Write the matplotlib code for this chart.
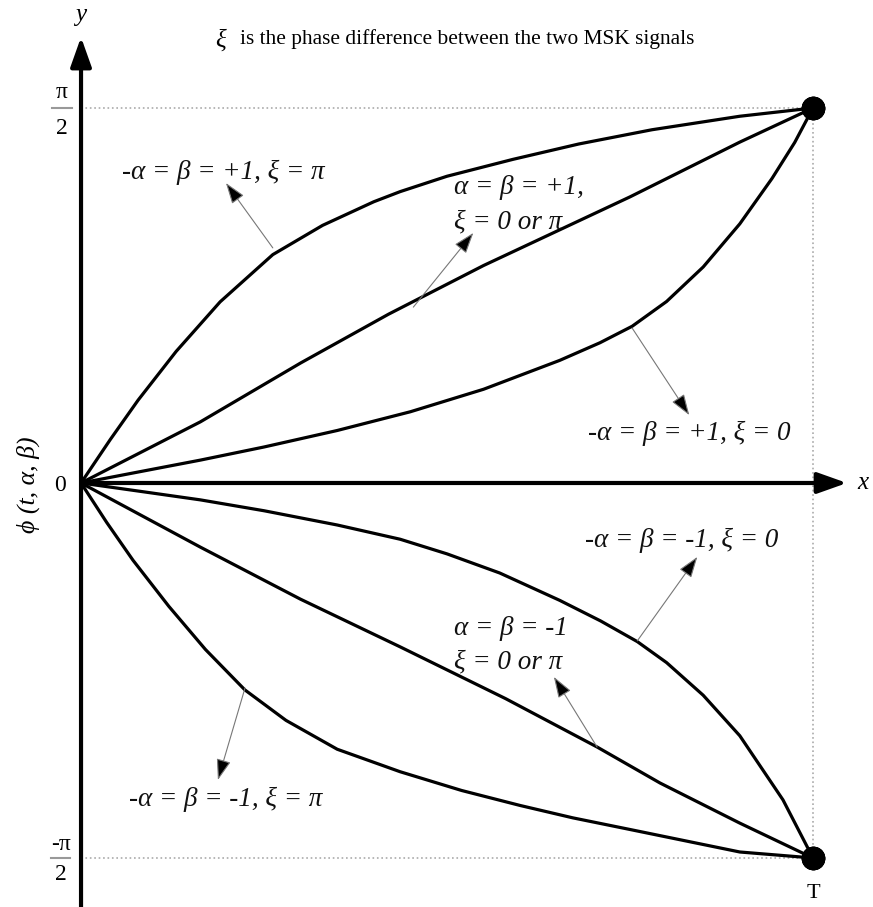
import numpy as np
import matplotlib
matplotlib.use("Agg")
import matplotlib.pyplot as plt

plt.rcParams['font.family'] = ['Liberation Serif', 'DejaVu Serif']

H = np.pi / 2  # phase at t = T

# phase trajectories, t as fraction of T, phase as fraction of pi/2
t_a = [0, 0.04, 0.078, 0.13, 0.19, 0.262, 0.33, 0.40, 0.436, 0.50, 0.59, 0.68, 0.78, 0.90, 1.0]
f_a = [0, 0.116, 0.221, 0.351, 0.483, 0.609, 0.687, 0.750, 0.777, 0.818, 0.863, 0.904, 0.942, 0.978, 1.0]

t_b = [0, 0.163, 0.30, 0.42, 0.55, 0.75, 0.90, 1.0]
f_b = [0, 0.163, 0.32, 0.45, 0.58, 0.763, 0.909, 1.0]

t_c = [0, 0.08, 0.163, 0.25, 0.35, 0.45, 0.55, 0.654, 0.709, 0.753, 0.80, 0.85, 0.90, 0.944, 0.975, 1.0]
f_c = [0, 0.030, 0.061, 0.096, 0.140, 0.190, 0.250, 0.327, 0.374, 0.418, 0.484, 0.576, 0.691, 0.812, 0.908, 1.0]

t_d = [0, 0.035, 0.071, 0.12, 0.17, 0.224, 0.28, 0.35, 0.436, 0.52, 0.60, 0.672, 0.75, 0.83, 0.90, 1.0]
f_d = [0, -0.105, -0.206, -0.329, -0.444, -0.552, -0.633, -0.710, -0.770, -0.820, -0.860,
       -0.893, -0.924, -0.956, -0.984, -1.0]

t_e = [0, 0.163, 0.30, 0.436, 0.58, 0.705, 0.791, 0.90, 1.0]
f_e = [0, -0.171, -0.31, -0.437, -0.575, -0.704, -0.80, -0.907, -1.0]

t_f = [0, 0.08, 0.163, 0.25, 0.35, 0.436, 0.50, 0.572, 0.654, 0.71, 0.76, 0.80, 0.85, 0.90, 0.959, 1.0]
f_f = [0, -0.022, -0.045, -0.074, -0.112, -0.150, -0.189, -0.240, -0.313, -0.368, -0.423,
       -0.479, -0.566, -0.674, -0.845, -1.0]

curves = [(t_a, f_a), (t_b, f_b), (t_c, f_c), (t_d, f_d), (t_e, f_e), (t_f, f_f)]

# curve labels: text lines, text position, alignment, arrow tip, arrow tail
labels = [
    (["-α = β = +1, ξ = π"], (0.194, 0.829), 'center', (0.198, 0.80), (0.262, 0.627)),
    (["α = β = +1,", "ξ = 0 or π"], (0.509, 0.787), 'left', (0.536, 0.667), (0.454, 0.469)),
    (["-α = β = +1, ξ = 0"], (0.831, 0.133), 'center', (0.831, 0.181), (0.753, 0.413)),
    (["-α = β = -1, ξ = 0"], (0.820, -0.152), 'center', (0.842, -0.197), (0.760, -0.421)),
    (["α = β = -1", "ξ = 0 or π"], (0.509, -0.387), 'left', (0.646, -0.517), (0.705, -0.704)),
    (["-α = β = -1, ξ = π"], (0.198, -0.845), 'center', (0.187, -0.792), (0.224, -0.547)),
]

fig = plt.figure(figsize=(8.73, 9.07), dpi=100)
ax = fig.add_axes([0, 0, 1, 1])
ax.set_xlim(-0.1107, 1.0820)
ax.set_ylim(-1.1307 * H, 1.288 * H)
ax.axis('off')

# guide lines to the end points
ax.plot([0, 1], [H, H], ls=':', color='#aaaaaa', lw=1.2)
ax.plot([0, 1], [-H, -H], ls=':', color='#aaaaaa', lw=1.2)
ax.plot([1, 1], [-H, H], ls=':', color='#aaaaaa', lw=1.2)

# axes with arrow heads
axis_arrow = dict(arrowstyle='-|>,head_length=0.9,head_width=0.32', mutation_scale=20,
                  color='black', lw=3, shrinkA=0, shrinkB=0)
ax.annotate('', xy=(0, 1.189 * H), xytext=(0, -1.14 * H), arrowprops=axis_arrow)
ax.annotate('', xy=(1.0464, 0), xytext=(0, 0), arrowprops=axis_arrow)

for t, f in curves:
    ax.plot(t, np.array(f) * H, color='black', lw=2.3, solid_capstyle='round',
            solid_joinstyle='round')
    ax.plot(t[-1], f[-1] * H, 'o', ms=16, color='black')

for lines, (tx, ty), ha, tip, tail in labels:
    for i, s in enumerate(lines):
        ax.text(tx, (ty - i * 0.091) * H, s, ha=ha, va='center', fontsize=19.5,
                style='italic', color='#111111')
    ax.annotate('', xy=(tip[0], tip[1] * H), xytext=(tail[0], tail[1] * H),
                arrowprops=dict(arrowstyle='-|>,head_length=1.3,head_width=0.45',
                                mutation_scale=10, edgecolor='#777777',
                                facecolor='black', lw=0.8, shrinkA=0, shrinkB=0))

# tick labels
def frac_label(x, y, top, dy_top, dy_bot):
    ax.text(x, y + dy_top * H, top, ha='center', va='center', fontsize=17)
    ax.text(x, y - dy_bot * H, '2', ha='center', va='center', fontsize=17)
    ax.plot([x - 0.013, x + 0.013], [y, y], color='#999999', lw=1.5)

frac_label(-0.026, H, 'π', 0.042, 0.055)
frac_label(-0.028, -H, '-π', 0.036, 0.045)
ax.text(-0.029, -0.006 * H, '0', ha='center', va='center', fontsize=17)
ax.text(1.0, -1.096 * H, 'T', ha='center', va='center', fontsize=16)
ax.text(-0.001, 1.248 * H, 'y', ha='center', va='center', fontsize=18, style='italic')
ax.text(1.068, 0, 'x', ha='center', va='center', fontsize=18, style='italic')
ax.text(-0.072, -0.005 * H, "ϕ (t, α, β)", rotation=90, style='italic',
        ha='center', va='center', fontsize=18.5)

# heading
ax.text(0.190, 1.181 * H, "ξ", ha='center', va='center', fontsize=18, style='italic')
ax.text(0.217, 1.185 * H, "is the phase difference between the two MSK signals",
        ha='left', va='center', fontsize=15.4)

fig.savefig('out.png', dpi=100)
